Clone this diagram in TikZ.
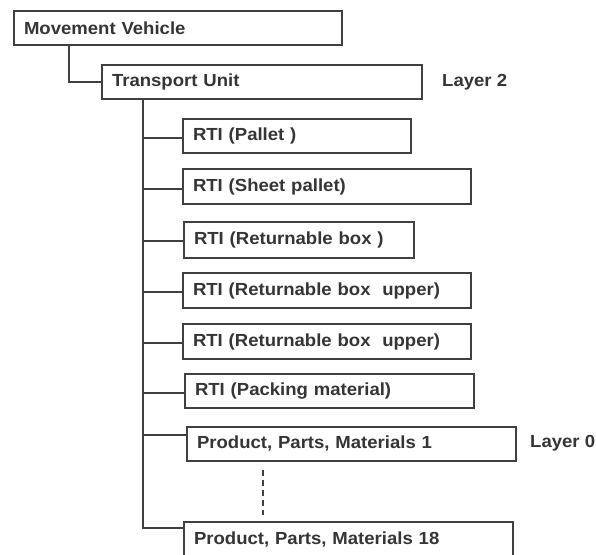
\documentclass[tikz,border=0pt]{standalone}
\usepackage{fontspec}
\setmainfont{Liberation Sans}
\definecolor{ink}{HTML}{353535}
\definecolor{edge}{HTML}{404040}
\tikzset{
  box/.style={draw=edge, line width=2pt, fill=white, anchor=north west,
    inner xsep=10pt, inner ysep=0pt, align=left, text=ink,
    font=\fontsize{17.5}{20}\selectfont\bfseries\addfontfeatures{FakeStretch=1.06}},
  lab/.style={anchor=west, inner sep=0pt, text=ink,
    font=\fontsize{17.5}{20}\selectfont\bfseries\addfontfeatures{FakeStretch=1.06}},
  conn/.style={draw=edge, line width=2pt},
}
\newcommand{\mybox}[6]{% name, x1, y1, x2, y2, text
  \pgfmathsetmacro{\bw}{#4-#2}\pgfmathsetmacro{\bh}{#5-#3}\pgfmathsetmacro{\tw}{#4-#2-20}
  \node[box, minimum width=\bw pt, minimum height=\bh pt, text width=\tw pt] (#1) at (#2pt,-#3pt) {#6};}
\begin{document}
\begin{tikzpicture}[x=1pt,y=1pt]
\useasboundingbox (0,0) rectangle (596,-554);
\fill[white] (0,0) rectangle (596,-554);
% connectors first
\coordinate (T) at (143,-98);
\coordinate (Tend) at (143,-528);
\coordinate (M) at (69,-44);
\mybox{MV}{13}{10}{341}{44}{Movement Vehicle}
\mybox{TU}{101}{64}{421}{98}{Transport Unit}
\mybox{P1}{182}{118}{410}{152}{RTI (Pallet )}
\mybox{P2}{182}{168}{470}{203}{RTI (Sheet pallet)}
\mybox{P3}{183}{221}{413}{257}{RTI (Returnable box )}
\mybox{P4}{182}{272}{470}{307}{RTI (Returnable box\ \ upper)}
\mybox{P5}{182}{323}{470}{358}{RTI (Returnable box\ \ upper)}
\mybox{P6}{184}{373}{473}{407}{RTI (Packing material)}
\mybox{P7}{186}{426}{515}{460}{Product, Parts, Materials 1}
\mybox{P8}{183}{521}{512}{556}{Product, Parts, Materials 18}
\node[lab] (L2) at (442,-82) {Layer 2};
\node[lab] (L0) at (530,-443) {Layer 0};
\draw[conn] (M) |- (TU.west);
\draw[conn] (T) -- (Tend) -- (Tend -| P8.west);
\draw[conn] ([yshift=-2pt]P1.west) -- ([yshift=-2pt]P1.west -| T);
\draw[conn] ([yshift=-2pt]P2.west) -- ([yshift=-2pt]P2.west -| T);
\draw[conn] ([yshift=-1pt]P3.west) -- ([yshift=-1pt]P3.west -| T);
\draw[conn] ([yshift=-1pt]P4.west) -- ([yshift=-1pt]P4.west -| T);
\draw[conn] ([yshift=-1pt]P5.west) -- ([yshift=-1pt]P5.west -| T);
\draw[conn] ([yshift=-2pt]P6.west) -- ([yshift=-2pt]P6.west -| T);
\draw[conn] ([yshift=9pt]P7.west) -- ([yshift=9pt]P7.west -| T);
\coordinate (D1) at (263,-470);
\coordinate (D2) at (263,-515);
\draw[conn, dash pattern=on 6pt off 4pt] (D1) -- (D2);
\end{tikzpicture}
\end{document}
